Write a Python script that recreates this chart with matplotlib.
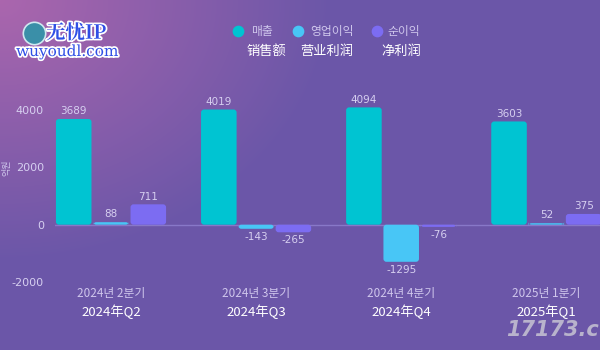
import matplotlib.pyplot as plt
import matplotlib.patheffects as pe
import matplotlib.transforms as mtransforms
from matplotlib.patches import FancyBboxPatch
import numpy as np

plt.rcParams["axes.unicode_minus"] = False

# 분기별 실적 (억원)
quarters_kr = ["2024년 2분기", "2024년 3분기", "2024년 4분기", "2025년 1분기"]
quarters_cn = ["2024年Q2", "2024年Q3", "2024年Q4", "2025年Q1"]
sales = [3689, 4019, 4094, 3603]
op_profit = [88, -143, -1295, 52]
net_profit = [711, -265, -76, 375]

names_kr = ["매출", "영업이익", "순이익"]
names_cn = ["销售额", "营业利润", "净利润"]
colors = ["#00c4d2", "#48c6f6", "#7c6cf2"]

W, H = 600, 350
fig = plt.figure(figsize=(W / 100, H / 100), dpi=100)

# 배경 그라데이션
bg = fig.add_axes([0, 0, 1, 1])
yy, xx = np.mgrid[0:H, 0:W]
d = np.sqrt((xx / 330.0) ** 2 + (yy / 260.0) ** 2)
t = np.clip(d, 0, 1)[..., None]
c0 = np.array([0.67, 0.40, 0.68])
c1 = np.array([0.42, 0.34, 0.66])
img = c0 * (1 - t) + c1 * t
bg.imshow(img, extent=[0, W, H, 0], aspect="auto")
bg.set_xlim(0, W)
bg.set_ylim(H, 0)
bg.axis("off")

# 차트 영역
ymin, ymax = -2000, 4500
ax_w, ax_h = 545, 282 - 95.75
ax = fig.add_axes([55 / W, (H - 282) / H, ax_w / W, ax_h / H])
ax.set_facecolor("none")
xmin, xmax = -0.386, 3.37
ax.set_xlim(xmin, xmax)
ax.set_ylim(ymin, ymax)

# 모서리가 둥근 막대
px_x = ax_w / (xmax - xmin)
px_y = ax_h / (ymax - ymin)
radius = 3 / px_x
aspect = px_x / px_y

x = np.arange(len(sales))
w = 0.245
series = [sales, op_profit, net_profit]
for i, (vals, col) in enumerate(zip(series, colors)):
    bars = ax.bar(x + (i - 1) * (w + 0.012), vals, width=w, color="none", zorder=3)
    for b in bars:
        y0 = min(b.get_y(), b.get_y() + b.get_height())
        h = abs(b.get_height())
        ax.add_patch(FancyBboxPatch((b.get_x(), y0), b.get_width(), h,
                                    boxstyle=f"round,pad=0,rounding_size={radius}",
                                    mutation_aspect=aspect, facecolor=col,
                                    edgecolor="none", zorder=3))
    ax.bar_label(bars, labels=[str(v) for v in vals], padding=2,
                 color="#d6cff0", fontsize=7.5, fontfamily="DejaVu Sans")

ax.axhline(0, color="#8878c8", lw=1, zorder=2)
ax.set_yticks([-2000, 0, 2000, 4000])
ax.tick_params(axis="y", length=0, colors="#d6cff0", labelsize=8, pad=8)
ax.set_xticks([])
for s in ax.spines.values():
    s.set_visible(False)

# 분기 라벨 (한글 + 중문)
trans = mtransforms.blended_transform_factory(ax.transData, fig.transFigure)
for lx, kr, cn in zip(x, quarters_kr, quarters_cn):
    ax.text(lx, 1 - 293 / H, kr, transform=trans, ha="center", va="center",
            color="#cfc6ec", fontsize=8.5, fontfamily="Noto Sans CJK KR")
    ax.text(lx, 1 - 312 / H, cn, transform=trans, ha="center", va="center",
            color="white", fontsize=9.5, fontweight="medium", fontfamily="Noto Sans CJK SC")

# 세로축 단위
fig.text(7 / W, 1 - 168 / H, "억원", rotation=90, ha="center", va="center",
         color="#cfc6ec", fontsize=6.5, fontfamily="Noto Sans CJK KR")

# 범례
leg_dot_x = [238, 298, 377]
leg_kr_x = [251, 310, 387]
leg_cn_x = [266, 327, 401]
for dx, kx, cx, kr, cn, col in zip(leg_dot_x, leg_kr_x, leg_cn_x, names_kr, names_cn, colors):
    bg.scatter([dx], [31], s=55, color=col, zorder=5)
    bg.text(kx, 31, kr, ha="left", va="center", color="#cfc6ec",
            fontsize=8.5, fontfamily="Noto Sans CJK KR")
    bg.text(cx, 51, cn, ha="center", va="center", color="white",
            fontsize=9.5, fontfamily="Noto Sans CJK SC")

# 워터마크
bg.scatter([34], [33], s=260, color="#3a8fa8", edgecolors="#cfe8f0", linewidths=1.2, zorder=5)
bg.text(46, 33, "无忧IP", ha="left", va="center", color="#2f4fe6",
        fontsize=14, fontweight="bold", fontfamily=["Noto Serif CJK SC", "Noto Sans CJK SC"],
        path_effects=[pe.withStroke(linewidth=2.5, foreground="white")])
bg.text(67, 52, "wuyoudl.com", ha="center", va="center", color="#2f4fe6",
        fontsize=11, fontfamily="DejaVu Serif",
        path_effects=[pe.withStroke(linewidth=2.5, foreground="white")])
bg.text(599, 330, "17173.c", ha="right", va="center", color="#b9b3cc",
        fontsize=15, fontweight="bold", style="italic", fontfamily="DejaVu Sans")

fig.savefig("out.png", dpi=100)
